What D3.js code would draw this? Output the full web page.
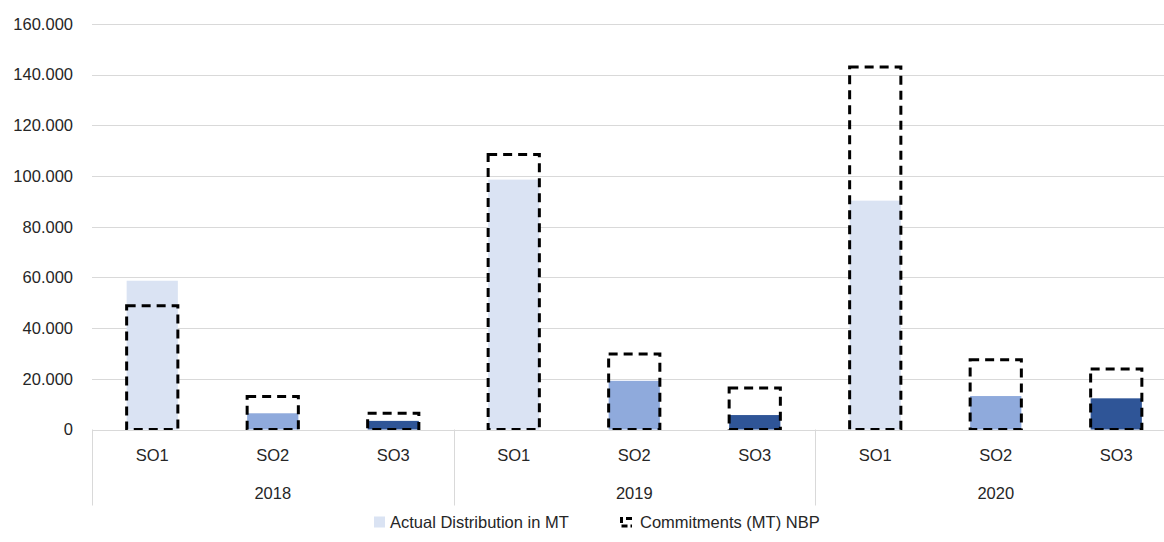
<!DOCTYPE html>
<html>
<head>
<meta charset="utf-8">
<script src="https://cdn.jsdelivr.net/npm/d3@7"></script>
<style>
  body { margin: 0; background: #fff; overflow: hidden; }
  svg { display: block; font-family: "Liberation Sans", Arial, sans-serif; }
</style>
</head>
<body>
<svg id="chart" width="1164" height="542"></svg>
<script>
// Chart data
const years = ["2018", "2019", "2020"];
const objectives = ["SO1", "SO2", "SO3"];
const actualDistribution = [58700, 6400, 3400, 98600, 19200, 5700, 90300, 13200, 12300];
const commitments = [48800, 13000, 6400, 108500, 29800, 16400, 143000, 27500, 23900];
const yTicks = [0, 20000, 40000, 60000, 80000, 100000, 120000, 140000, 160000];
const objectiveColors = ["#dae3f3", "#8faadc", "#2f5597"];
const seriesNames = ["Actual Distribution in MT", "Commitments (MT) NBP"];

const rows = [];
years.forEach((yr, i) => objectives.forEach((so, j) => {
  const k = i * objectives.length + j;
  rows.push({ key: yr + "-" + so, year: yr, so, soIndex: j,
              actual: actualDistribution[k], commit: commitments[k] });
}));

const svg = d3.select("#chart");
// plot area runs slightly past the right edge of the canvas
const x0 = 92, x1 = 1176.5;
const yTop = 24, yBase = 429.5;
const textColor = "#262626";
const fontSize = 16.5;

const x = d3.scaleBand().domain(rows.map(r => r.key)).range([x0, x1]).paddingInner(0.575).paddingOuter(0.2875);
const xYear = d3.scaleBand().domain(years).range([x0, x1]);
const y = d3.scaleLinear().domain([0, 160000]).range([yBase, yTop]);

const fmt = v => v === 0 ? "0" : d3.format(",")(v).replace(/,/g, ".");

// Gridlines
svg.append("g").selectAll("line").data(yTicks.slice(1)).join("line")
  .attr("x1", x0).attr("x2", x1)
  .attr("y1", d => Math.round(y(d)) + 0.5).attr("y2", d => Math.round(y(d)) + 0.5)
  .attr("stroke", "#d9d9d9").attr("stroke-width", 1);

// Y-axis labels
const yAxis = d3.axisLeft(y).tickValues(yTicks).tickFormat(fmt).tickSize(0).tickPadding(19);
const gy = svg.append("g").attr("transform", `translate(${x0},0)`).call(yAxis);
gy.select(".domain").remove();
gy.selectAll("text").attr("font-size", fontSize).attr("fill", textColor)
  .attr("font-family", "'Liberation Sans', Arial, sans-serif");

// Actual distribution bars
svg.append("g").selectAll("rect").data(rows).join("rect")
  .attr("x", d => x(d.key)).attr("width", x.bandwidth())
  .attr("y", d => y(d.actual)).attr("height", d => yBase - y(d.actual))
  .attr("fill", d => objectiveColors[d.soIndex]);

// Commitments as dashed outline bars
svg.append("g").selectAll("rect").data(rows).join("rect")
  .attr("x", d => x(d.key)).attr("width", x.bandwidth())
  .attr("y", d => y(d.commit)).attr("height", d => yBase - y(d.commit))
  .attr("fill", "none").attr("stroke", "#000").attr("stroke-width", 3)
  .attr("stroke-dasharray", "9,6");

// Category axis line, drawn over the bar bottoms
svg.append("line").attr("x1", x0).attr("x2", x1)
  .attr("y1", Math.round(yBase) + 0.5).attr("y2", Math.round(yBase) + 0.5)
  .attr("stroke", "#d9d9d9").attr("stroke-width", 1);

// Year separators
const sepX = [x0, ...years.map(yr => xYear(yr) + xYear.bandwidth())];
svg.append("g").selectAll("line").data(sepX).join("line")
  .attr("x1", d => Math.round(d) + 0.5).attr("x2", d => Math.round(d) + 0.5)
  .attr("y1", yBase).attr("y2", yBase + 76)
  .attr("stroke", "#d9d9d9").attr("stroke-width", 1);

// Objective labels
svg.append("g").selectAll("text").data(rows).join("text")
  .attr("x", d => x(d.key) + x.bandwidth() / 2).attr("y", yBase + 31.5)
  .attr("text-anchor", "middle").attr("font-size", fontSize).attr("fill", textColor)
  .text(d => d.so);

// Year labels
svg.append("g").selectAll("text").data(years).join("text")
  .attr("x", d => xYear(d) + xYear.bandwidth() / 2).attr("y", yBase + 69.5)
  .attr("text-anchor", "middle").attr("font-size", fontSize).attr("fill", textColor)
  .text(d => d);

// Legend
const lg = svg.append("g").attr("transform", "translate(0,522)");
lg.append("rect").attr("x", 374).attr("y", -5.5).attr("width", 11).attr("height", 11)
  .attr("fill", objectiveColors[0]);
lg.append("text").attr("x", 390).attr("y", 6).attr("font-size", fontSize).attr("fill", textColor)
  .text(seriesNames[0]);
lg.append("path").attr("d", "M632,-3.5 H621.5 V4 H632")
  .attr("fill", "none").attr("stroke", "#000").attr("stroke-width", 3)
  .attr("stroke-dasharray", "6,3");
lg.append("text").attr("x", 640).attr("y", 6).attr("font-size", fontSize).attr("fill", textColor)
  .text(seriesNames[1]);
</script>
</body>
</html>
